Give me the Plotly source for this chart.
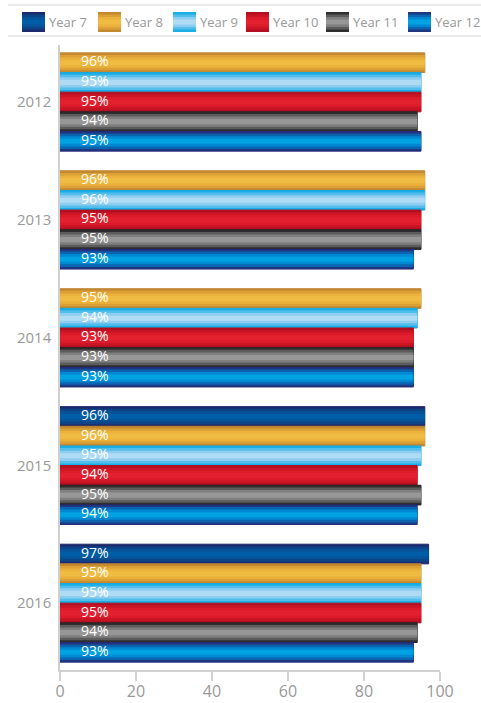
import plotly.graph_objects as go

# data
years = ["2012", "2013", "2014", "2015", "2016"]
series_names = ["Year 7", "Year 8", "Year 9", "Year 10", "Year 11", "Year 12"]
year7 = [None, None, None, 96, 97]
year8 = [96, 96, 95, 96, 95]
year9 = [95, 96, 94, 95, 95]
year10 = [95, 95, 93, 94, 95]
year11 = [94, 95, 93, 95, 94]
year12 = [95, 93, 93, 94, 93]
values = [year7, year8, year9, year10, year11, year12]

# tube-like shading, outside band to centre band
shading = {
    "Year 7": ["#1c2a6e", "#0d4488", "#07539a", "#005ea6"],
    "Year 8": ["#c48a30", "#dca036", "#eab23b", "#f0bb42"],
    "Year 9": ["#1aaee6", "#53bdec", "#8dcdf0", "#b0dbf4"],
    "Year 10": ["#b30f22", "#cc1427", "#db1a2a", "#e3202e"],
    "Year 11": ["#2f2f2f", "#5c5c5c", "#7f7f7f", "#979797"],
    "Year 12": ["#1e3882", "#0a64b0", "#0088d2", "#00a2e2"],
}
band_widths = [1.0, 0.78, 0.52, 0.26]
outline = {
    "Year 7": "#1d2466", "Year 8": "#c08530", "Year 9": "#1aa8e0",
    "Year 10": "#b00e20", "Year 11": "#222222", "Year 12": "#262a7a",
}

GREY = "#999999"
FONT = "Open Sans"

# row positions: one row per bar present, one empty row between years
positions = [[None] * len(years) for _ in series_names]
centers = []
row = 0
for i, yr in enumerate(years):
    rows_here = []
    for s, vals in enumerate(values):
        if vals[i] is not None:
            positions[s][i] = row
            rows_here.append(row)
            row += 1
    centers.append(sum(rows_here) / len(rows_here))
    row += 1
last_row = row - 2

fig = go.Figure()

for s, name in enumerate(series_names):
    ys = [p for p, v in zip(positions[s], values[s]) if v is not None]
    xs = [v for v in values[s] if v is not None]
    for k, (w, col) in enumerate(zip(band_widths, shading[name])):
        fig.add_trace(go.Bar(
            x=xs, y=ys, orientation="h", width=w,
            marker=dict(color=col,
                        line=dict(color=outline[name], width=1 if k == 0 else 0)),
            name=name, showlegend=False, hoverinfo="skip" if k else "x+name",
        ))

# percentage labels inside the bars
for s, name in enumerate(series_names):
    ys = [p for p, v in zip(positions[s], values[s]) if v is not None]
    xs = [v for v in values[s] if v is not None]
    fig.add_trace(go.Scatter(
        x=[5.5] * len(xs), y=ys, mode="text",
        text=[f"{v}%" for v in xs], textposition="middle right",
        textfont=dict(family=FONT, size=14, color="white"),
        showlegend=False, hoverinfo="skip",
    ))


def px_x(px):
    return (px - 60) / 380


def px_y(py):
    return (670 - py) / 625


# hand-drawn legend strip between two rules
shapes = []
annotations = []
for y_rule in (5, 36):
    shapes.append(dict(type="line", xref="paper", yref="paper",
                       x0=px_x(8), x1=px_x(481), y0=px_y(y_rule), y1=px_y(y_rule),
                       line=dict(color="#e3e3e3", width=1.5)))
legend_left = [22, 98, 173, 246, 326, 408]
for name, lx in zip(series_names, legend_left):
    for k, col in enumerate(shading[name]):
        inset = k * 2.5
        shapes.append(dict(type="rect", xref="paper", yref="paper",
                           x0=px_x(lx), x1=px_x(lx + 23),
                           y0=px_y(32 - inset), y1=px_y(12 + inset),
                           fillcolor=col, line=dict(width=0)))
    annotations.append(dict(xref="paper", yref="paper", x=px_x(lx + 25), y=px_y(22),
                            text=name, showarrow=False, xanchor="left", yanchor="middle",
                            font=dict(family=FONT, size=13, color=GREY)))

fig.update_layout(
    width=481, height=703,
    margin=dict(l=60, r=41, t=45, b=33),
    barmode="overlay",
    showlegend=False,
    plot_bgcolor="white", paper_bgcolor="white",
    font=dict(family=FONT, color=GREY),
    shapes=shapes, annotations=annotations,
    xaxis=dict(range=[0, 100], tickvals=[0, 20, 40, 60, 80, 100],
               showgrid=False, zeroline=False, showline=True, automargin=False,
               linecolor="#d0d0d0", linewidth=1.5,
               ticks="outside", ticklen=9, tickwidth=1.5, tickcolor="#d0d0d0",
               ticklabelstandoff=-3,
               tickfont=dict(family=FONT, size=16, color=GREY)),
    yaxis=dict(range=[last_row + 0.9, -0.9], tickvals=centers, ticktext=years,
               showgrid=False, zeroline=False, showline=True, automargin=False,
               linecolor="#d0d0d0", linewidth=1.5, ticks="",
               ticklabelstandoff=4,
               tickfont=dict(family=FONT, size=15, color=GREY)),
)

# the page's default body margin would push the figure off the window edge
fig.write_html("out.html", config={"displayModeBar": False},
               post_script="document.body.style.margin = '0';")
